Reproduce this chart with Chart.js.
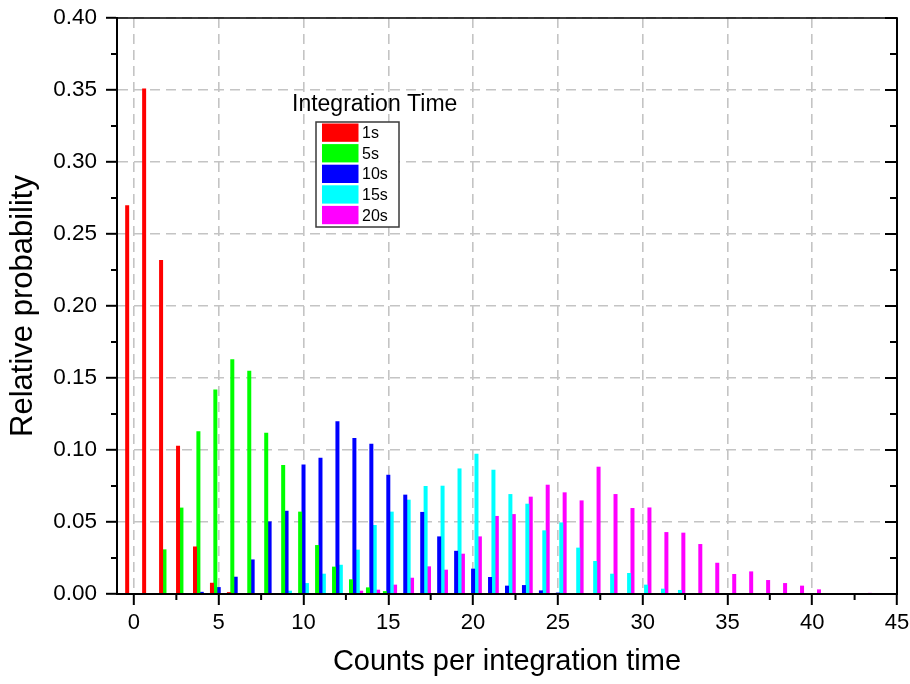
<!DOCTYPE html>
<html><head><meta charset="utf-8">
<script src="https://cdn.jsdelivr.net/npm/chart.js@4/dist/chart.umd.min.js"></script>
<style>html,body{margin:0;padding:0;background:#fff}canvas{display:block}</style>
</head><body>
<canvas id="c" width="910" height="684"></canvas>
<script>
// ---------- data ----------
const seriesLabels = ['1s', '5s', '10s', '15s', '20s'];
const seriesColors = ['#ff0000', '#00ff00', '#0000ff', '#00ffff', '#ff00ff'];

const counts1s = [0, 1, 2, 3, 4, 5, 6];
const prob1s   = [0.270, 0.351, 0.232, 0.103, 0.033, 0.0078, 0.0013];

const counts5s = [2, 3, 4, 5, 6, 7, 8, 9, 10, 11, 12, 13, 14, 15];
const prob5s   = [0.031, 0.060, 0.113, 0.142, 0.163, 0.155, 0.112, 0.0895, 0.0572, 0.034, 0.019, 0.0102, 0.0046, 0.002];

const counts10s = [4, 5, 6, 7, 8, 9, 10, 11, 12, 13, 14, 15, 16, 17, 18, 19, 20, 21, 22, 23, 24, 25, 26];
const prob10s   = [0.0015, 0.0048, 0.012, 0.024, 0.0504, 0.0578, 0.090, 0.0947, 0.120, 0.1083, 0.1044, 0.0828, 0.069, 0.057, 0.040, 0.030, 0.0176, 0.0118, 0.0058, 0.0062, 0.0025, 0.001, 0.0007];

const counts15s = [9, 10, 11, 12, 13, 14, 15, 16, 17, 18, 19, 20, 21, 22, 23, 24, 25, 26, 27, 28, 29, 30, 31, 32, 34, 35];
const prob15s   = [0.0023, 0.0076, 0.0141, 0.0203, 0.0308, 0.0479, 0.0572, 0.0655, 0.075, 0.0752, 0.0872, 0.0974, 0.0863, 0.0694, 0.0627, 0.0442, 0.0497, 0.0322, 0.0229, 0.0141, 0.0146, 0.0065, 0.0037, 0.0028, 0.0005, 0.0007];

const counts20s = [13, 14, 15, 16, 17, 18, 19, 20, 21, 22, 23, 24, 25, 26, 27, 28, 29, 30, 31, 32, 33, 34, 35, 36, 37, 38, 39, 40, 43];
const prob20s   = [0.0023, 0.003, 0.0065, 0.0113, 0.0192, 0.0169, 0.028, 0.040, 0.0542, 0.0555, 0.0676, 0.0759, 0.0706, 0.065, 0.0884, 0.0694, 0.0597, 0.0601, 0.043, 0.0426, 0.0347, 0.0217, 0.0139, 0.0157, 0.0097, 0.0076, 0.0058, 0.0032, 0.0008];

const xTickValues = [0, 5, 10, 15, 20, 25, 30, 35, 40, 45];
const yTickValues = [0, 0.05, 0.10, 0.15, 0.20, 0.25, 0.30, 0.35, 0.40];

const xTitle = 'Counts per integration time';
const yTitle = 'Relative probability';
const legendTitle = 'Integration Time';

// ---------- chart ----------
const FONT = '"Liberation Sans", Arial, "DejaVu Sans", sans-serif';
const allCounts = [counts1s, counts5s, counts10s, counts15s, counts20s];
const allProbs = [prob1s, prob5s, prob10s, prob15s, prob20s];

const datasets = seriesLabels.map((lab, i) => ({
  label: lab,
  data: allCounts[i].map((c, j) => ({x: c, y: allProbs[i][j]})),
  backgroundColor: seriesColors[i],
  borderWidth: 0
}));

const framePlugin = {
  id: 'frame',
  afterDatasetsDraw(chart) {
    const {ctx, chartArea: a, scales: {x, y}} = chart;
    ctx.save();
    ctx.strokeStyle = '#000';
    ctx.lineCap = 'butt';
    ctx.lineWidth = 2;
    ctx.beginPath();
    ctx.moveTo(a.left, a.top); ctx.lineTo(a.left, a.bottom);
    ctx.lineTo(a.right, a.bottom); ctx.lineTo(a.right, a.top);
    ctx.stroke();
    ctx.lineWidth = 1.5;
    ctx.beginPath(); ctx.moveTo(a.left - 1, a.top); ctx.lineTo(a.right + 1, a.top); ctx.stroke();
    ctx.lineWidth = 2;
    ctx.beginPath();
    yTickValues.forEach(v => {
      const p = y.getPixelForValue(v);
      ctx.moveTo(a.right, p); ctx.lineTo(a.right - 12, p);
    });
    for (let i = 0; i < yTickValues.length - 1; i++) {
      const p = y.getPixelForValue((yTickValues[i] + yTickValues[i + 1]) / 2);
      ctx.moveTo(a.right, p); ctx.lineTo(a.right - 7, p);
      ctx.moveTo(a.left, p); ctx.lineTo(a.left - 6, p);
    }
    for (let i = 0; i < xTickValues.length - 1; i++) {
      const p = x.getPixelForValue((xTickValues[i] + xTickValues[i + 1]) / 2);
      ctx.moveTo(p, a.bottom); ctx.lineTo(p, a.bottom + 6);
    }
    ctx.stroke();
    ctx.restore();
  }
};

const legendPlugin = {
  id: 'boxLegend',
  afterDraw(chart) {
    const ctx = chart.ctx;
    ctx.save();
    ctx.textBaseline = 'middle';
    ctx.textAlign = 'left';
    ctx.fillStyle = '#000';
    ctx.font = '23px ' + FONT;
    ctx.fillText(legendTitle, 292, 104.7);
    ctx.fillStyle = '#fff';
    ctx.fillRect(316, 122, 83, 105);
    ctx.strokeStyle = '#3a3a3a';
    ctx.lineWidth = 1.5;
    ctx.strokeRect(316, 122, 83, 105);
    chart.data.datasets.forEach((ds, i) => {
      const yy = 123.5 + i * 20.6;
      ctx.fillStyle = ds.backgroundColor;
      ctx.fillRect(322, yy, 36.5, 18.3);
      ctx.fillStyle = '#000';
      ctx.font = '16px ' + FONT;
      ctx.fillText(ds.label, 362, yy + 10.3);
    });
    ctx.restore();
  }
};

new Chart(document.getElementById('c'), {
  type: 'bar',
  data: {datasets},
  options: {
    responsive: false,
    animation: false,
    devicePixelRatio: 1,
    layout: {padding: {top: 18, right: 13, left: 0, bottom: 0}},
    datasets: {bar: {categoryPercentage: 1, barPercentage: 1.18, grouped: true}},
    plugins: {legend: {display: false}, tooltip: {enabled: false}},
    scales: {
      x: {
        type: 'linear', min: -1, max: 45, offset: false,
        afterBuildTicks: s => { s.ticks = xTickValues.map(v => ({value: v})); },
        afterFit: s => { s.height = 90; s.paddingLeft = 0; s.paddingRight = 0; },
        ticks: {font: {family: FONT, size: 22}, color: '#000', padding: 5, maxRotation: 0, autoSkip: false,
                callback: v => String(v)},
        grid: {offset: false, color: '#c4c4c4', lineWidth: 1.6, tickColor: '#000', tickWidth: 2, tickLength: 11},
        border: {display: true, color: '#000', width: 2, dash: [10, 6]},
        title: {display: true, text: xTitle, color: '#000', font: {family: FONT, size: 29}, padding: {top: 0, bottom: 5}}
      },
      y: {
        type: 'linear', min: 0, max: 0.4,
        afterBuildTicks: s => { s.ticks = yTickValues.map(v => ({value: v})); },
        afterFit: s => { s.width = 117; s.paddingTop = 0; s.paddingBottom = 0; },
        ticks: {font: {family: FONT, size: 22.5}, color: '#000', padding: 9, callback: v => Number(v).toFixed(2)},
        grid: {color: '#c4c4c4', lineWidth: 1.6, tickColor: '#000', tickWidth: 2, tickLength: 11},
        border: {display: true, color: '#000', width: 2, dash: [10, 6]},
        title: {display: true, text: yTitle, color: '#000', font: {family: FONT, size: 31}, padding: {top: 5, bottom: 0}}
      }
    }
  },
  plugins: [framePlugin, legendPlugin]
});
</script>
</body></html>
